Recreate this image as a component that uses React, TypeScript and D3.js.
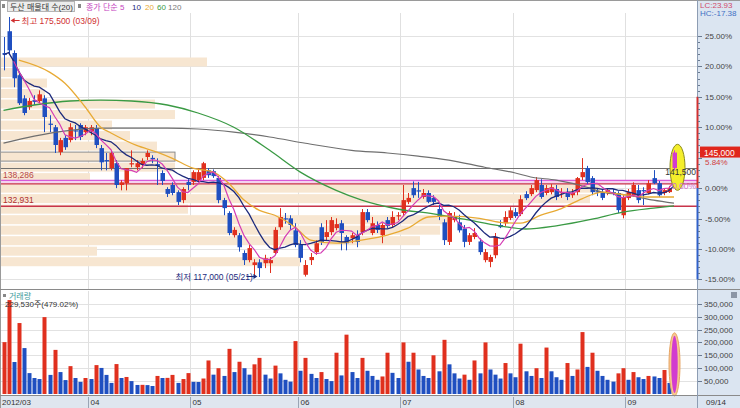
import React from "react";
import * as d3 from "d3";

// ---------- DATA ----------
// OHLC per trading day: [open, high, low, close] (2012/03/08 .. 2012/09/14)
const ohlc: [number, number, number, number][] = [
  [167400, 171000, 163500, 167000], [172300, 175500, 167000, 168000], [167400, 168000, 159700, 161700],
  [162400, 162900, 155700, 156100], [157200, 157900, 153400, 153900], [155200, 157300, 154600, 156600],
  [156800, 157900, 155700, 156400], [156600, 159000, 156100, 158100], [157200, 157900, 149600, 153000],
  [151500, 153400, 149600, 151300], [150700, 151200, 144900, 146700], [145100, 148300, 144400, 147800],
  [148300, 148900, 145600, 146200], [147800, 151600, 147300, 150700], [150000, 151200, 147800, 149800],
  [151200, 151600, 147800, 148500], [149600, 151200, 148900, 150700], [149800, 151200, 148900, 150700],
  [150500, 151200, 146000, 146700], [146000, 146700, 141000, 142800], [143300, 144900, 141000, 143100],
  [141500, 145500, 141000, 144900], [142600, 143300, 137000, 137700], [137700, 138800, 136500, 138300],
  [138100, 141500, 136500, 141500], [142400, 145500, 141700, 142600], [141700, 143300, 141000, 142600],
  [142200, 143700, 141500, 143100], [144000, 145500, 143300, 144900], [143800, 144400, 142600, 143500],
  [142400, 143700, 137700, 142000], [140400, 141000, 137700, 138600], [136800, 137200, 135000, 135700],
  [137700, 138300, 135400, 135900], [136100, 136500, 133200, 133900], [134300, 137200, 133600, 136800],
  [138400, 139000, 136500, 137700], [138400, 141000, 137700, 140600], [138800, 141500, 138300, 140600],
  [139300, 142900, 138800, 142600], [141000, 141500, 139300, 139900], [140800, 141200, 139300, 139700],
  [139300, 139700, 133600, 134300], [134300, 134800, 130900, 132500], [131400, 131800, 126400, 126900],
  [126400, 128200, 125900, 127600], [126400, 126900, 122700, 123700], [122400, 123000, 119700, 120800],
  [120800, 124200, 120300, 123500], [119700, 121000, 117400, 120300], [120300, 121000, 117000, 119000],
  [120100, 122000, 119000, 121200], [120100, 121500, 117900, 120800], [122400, 128200, 121900, 127600],
  [128200, 132500, 127600, 130500], [130200, 131400, 129000, 130000], [130200, 130900, 127600, 128700],
  [127500, 129100, 123700, 124200], [124200, 125300, 120300, 121300], [117500, 120800, 117100, 119700],
  [120800, 122400, 119700, 121500], [122600, 125300, 122000, 124600], [128200, 129100, 124200, 124900],
  [126000, 129800, 125300, 127100], [127100, 130500, 126400, 129800], [128000, 130200, 127500, 128900],
  [129100, 129800, 123000, 126900], [126000, 126400, 123000, 124600], [125700, 126900, 124600, 126400],
  [126200, 127500, 123700, 124900], [127100, 132300, 126400, 131600], [131600, 132300, 129300, 129800],
  [126900, 130500, 126400, 129100], [128700, 129500, 126900, 127600], [126400, 129100, 124600, 128700],
  [129800, 130500, 128000, 128500], [128700, 131800, 128200, 130500], [130700, 131600, 129800, 130900],
  [131400, 137700, 130700, 134300], [133900, 135900, 133400, 134800], [137000, 138500, 134800, 135400],
  [136500, 138400, 134800, 136300], [135000, 136800, 134600, 135900], [135900, 136500, 133600, 133900],
  [134800, 135400, 133200, 133900], [132300, 133200, 129800, 130500], [129300, 130000, 124200, 125300],
  [124900, 131800, 124200, 131400], [129800, 131600, 129300, 130700], [129300, 131000, 127000, 127500],
  [127900, 128700, 123700, 124900], [124900, 126900, 124200, 126400], [126000, 128000, 125500, 126900],
  [125000, 125700, 122000, 122600], [120800, 123300, 120300, 122600], [120400, 122000, 119200, 121500],
  [121900, 126900, 121200, 126000], [128700, 129800, 128000, 128200], [129100, 131800, 128500, 130500],
  [130250, 132700, 129800, 132000], [131600, 132500, 130300, 130700], [131150, 135400, 130700, 134500],
  [135650, 136300, 134300, 134750], [135650, 137700, 135200, 137000], [136550, 139500, 136100, 138800],
  [137700, 139000, 134600, 135000], [135900, 137700, 135400, 137000], [136100, 137900, 135600, 137200],
  [136800, 137700, 134300, 135000], [135900, 137000, 134800, 136100], [136100, 137000, 134300, 135000],
  [135400, 136800, 134800, 135900], [136100, 139500, 135400, 139250], [139450, 143750, 138800, 140600],
  [141500, 142000, 137900, 138350], [139250, 139700, 135400, 136100], [136300, 137000, 135200, 136100],
  [136100, 136800, 134300, 134800], [135900, 137000, 135400, 136550], [136100, 136800, 135400, 135900],
  [135900, 136300, 131400, 132050], [130900, 135400, 130200, 135000], [134750, 136800, 134300, 136100],
  [135400, 138300, 135000, 137700], [136550, 137700, 133600, 134300], [136550, 137200, 133200, 136300],
  [135900, 138800, 135600, 138100], [139250, 141050, 137900, 138100], [138100, 138600, 135000, 135400],
  [135900, 137000, 135400, 136550], [136100, 137500, 135900, 137000], [141500, 145500, 141000, 145000],
];

const volume: number[] = [
  201000, 364000, 124000, 275000, 178000, 81000, 62000, 58000, 298000, 74000,
  171000, 85000, 54000, 108000, 62000, 47000, 62000, 58000, 112000, 101000,
  74000, 43000, 116000, 62000, 66000, 50000, 35000, 35500, 34500, 31000,
  70000, 62000, 62500, 74000, 43000, 58000, 81000, 47000, 46500, 60000,
  130000, 75000, 100000, 70000, 175000, 85000, 125000, 100000, 75000, 115000,
  140000, 75000, 60000, 110000, 80000, 55000, 48000, 205000, 90000, 140000,
  78000, 62000, 85000, 58000, 50000, 160000, 72000, 230000, 85000, 62000,
  140000, 90000, 70000, 55000, 68000, 160000, 82000, 62000, 200000, 125000,
  160000, 95000, 70000, 62000, 150000, 88000, 210000, 115000, 80000, 60000,
  75000, 55000, 130000, 80000, 200000, 95000, 75000, 60000, 120000, 80000,
  65000, 195000, 88000, 70000, 100000, 62000, 180000, 88000, 65000, 55000,
  120000, 70000, 95000, 240000, 105000, 160000, 90000, 70000, 55000, 48000,
  80000, 100000, 55000, 85000, 65000, 58000, 70000, 68000, 62000, 93000,
  43000, 229530,
];

// moving averages (index, price)
const ma20Points: [number, number][] = [
  [3, 165800], [9, 163100], [12, 160600], [16, 155200], [19, 150700], [21, 149400], [26, 146600],
  [30, 145100], [33, 143700], [37, 141500], [41, 140600], [44, 138100], [47, 134300], [50, 132000],
  [53, 130900], [57, 128200], [60, 125300], [65, 124600], [70, 125300], [75, 126400], [79, 128000],
  [83, 130500], [87, 130700], [93, 130200], [97, 129300], [101, 129100], [105, 130900], [109, 132400],
  [113, 134600], [117, 136100], [122, 135400], [126, 135000], [131, 135000],
];
const ma60Points: [number, number][] = [
  [0, 154500], [6, 155700], [13, 156600], [19, 156800], [25, 156600], [32, 155700], [38, 153900],
  [45, 150700], [52, 145500], [58, 140600], [65, 136500], [70, 134300], [77, 132300], [84, 131200],
  [90, 130000], [97, 128500], [102, 127800], [108, 128500], [115, 130000], [121, 131600], [127, 132500],
  [131, 133000],
];
const ma120Points: [number, number][] = [
  [0, 147100], [6, 148700], [13, 150000], [19, 150500], [25, 150500], [32, 150500], [38, 150300],
  [45, 149600], [52, 148500], [59, 147100], [68, 145500], [75, 144900], [81, 144200], [87, 143300],
  [94, 141700], [100, 140400], [103, 139500], [108, 138800], [114, 137200], [117, 136100], [122, 135400],
  [127, 134300], [131, 133600],
];

// price-volume profile (20 bands, top -> bottom), relative volume
const profileVolume: number[] = [207, 20, 47, 45, 155, 175, 112, 130, 157, 175, 175, 90, 600, 590, 188, 450, 440, 420, 97, 300];
const profileLow = 119200;
const profileHigh = 166500;
const currentBand = 9;

const monthLabels = ["2012/03", "04", "05", "06", "07", "08", "09"];
const monthStart = [0, 17, 37, 58, 78, 100, 122];
const lastDateLabel = "09/14";
const pctTicks = [25, 20, 15, 10, 0, -5, -10, -15];
const volTicks = [50000, 100000, 150000, 200000, 250000, 300000, 350000];
const basePrice = 137000;
const lastPrice = 145000;
const openLine = 141500;
const level1 = 138286;
const level2 = 132931;
const hiPrice = 175500, hiIdx = 1, hiDate = "03/09";
const loPrice = 117000, loIdx = 50, loDate = "05/21";

// ---------- CHART ----------
const UP = "#e0301e";
const DOWN = "#1f4fc0";
const LAST = "#d23ccf";
const FONT = "'Liberation Sans', 'Noto Sans CJK KR', sans-serif";

function sma(closes: number[], n: number, i: number) {
  const s = Math.max(0, i - n + 1);
  let t = 0;
  for (let k = s; k <= i; k++) t += closes[k];
  return t / (i - s + 1);
}

export default function App() {
  const N = ohlc.length;
  const x = d3.scaleLinear().domain([0, N - 1]).range([3.5, 674]);
  const step = x(1) - x(0);
  const yP = d3.scaleLinear().domain([117000, 175500]).range([277, 17]);
  const yV = d3.scaleLinear().domain([0, 350000]).range([394, 303.7]);
  const yPct = (p: number) => yP(basePrice * (1 + p / 100));
  const plotR = 697;
  const closes = ohlc.map((d) => d[3]);

  const lineGen = d3.line<[number, number]>().x((d) => x(d[0])).y((d) => yP(d[1]));
  const smooth = d3.line<[number, number]>().x((d) => x(d[0])).y((d) => yP(d[1])).curve(d3.curveMonotoneX);
  const ma5 = d3.range(2, N).map((i) => [i, sma(closes, 5, i)] as [number, number]);
  const ma10 = d3.range(0, N).map((i) => [i, sma(closes, 10, i)] as [number, number]);

  const profW = d3.scaleLinear().domain([0, 600]).range([0, 600]);
  const bandH = (yP(profileLow) - yP(profileHigh)) / profileVolume.length;

  const gridX = monthStart.slice(1).map((i) => Math.round(x(i) - step / 2) + 0.5);
  const minorPct = d3.range(-15, 26, 1);
  const pctLast = (lastPrice / basePrice - 1) * 100;

  return (
    <div style={{ position: "absolute", left: 0, top: 0 }}>
      <svg width={740} height={408} style={{ display: "block", fontFamily: FONT }}>
        <rect x={0} y={0} width={740} height={408} fill="#ffffff" />
        {/* right axis strip */}
        <rect x={plotR} y={0} width={43} height={408} fill="#dbe5f1" />
        {/* x-axis strip */}
        <rect x={0} y={396} width={plotR} height={12} fill="#dfe6ef" />

        {/* price gridlines */}
        {pctTicks.map((p) => (
          <line key={"g" + p} x1={0} x2={plotR} y1={Math.round(yPct(p)) + 0.5} y2={Math.round(yPct(p)) + 0.5} stroke="#e2e2e2" />
        ))}
        {volTicks.map((v) => (
          <line key={"vg" + v} x1={0} x2={plotR} y1={Math.round(yV(v)) + 0.5} y2={Math.round(yV(v)) + 0.5} stroke="#e2e2e2" />
        ))}
        {gridX.map((gx, k) => (
          <g key={"vx" + k}>
            <line x1={gx} x2={gx} y1={13} y2={289} stroke="#e0e0e0" />
            <line x1={gx} x2={gx} y1={291} y2={395} stroke="#e0e0e0" />
            <line x1={gx} x2={gx} y1={397} y2={408} stroke="#9aa5b5" />
          </g>
        ))}

        {/* volume profile */}
        {profileVolume.map((v, k) => {
          const y0 = yP(profileHigh) + k * bandH;
          return (
            <rect key={"pf" + k} x={0} y={y0 + 0.5} width={profW(v)} height={bandH - 1.5}
              fill="#f7e6d1" stroke={k === currentBand ? "#8a8a8a" : "none"} strokeWidth={1} />
          );
        })}

        {/* horizontal levels */}
        <line x1={0} x2={plotR} y1={Math.round(yP(openLine)) + 0.5} y2={Math.round(yP(openLine)) + 0.5} stroke="#707070" />
        <rect x={0} y={yP(level1) - 2} width={plotR} height={3.5} fill="#f4d2ef" />
        <line x1={0} x2={plotR} y1={yP(level1) - 2} y2={yP(level1) - 2} stroke="#d85ad8" strokeWidth={1.2} />
        <line x1={0} x2={plotR} y1={yP(level1) + 1.5} y2={yP(level1) + 1.5} stroke="#c8344a" strokeWidth={1.3} />
        <line x1={0} x2={plotR} y1={yP(level2)} y2={yP(level2)} stroke="#c8344a" strokeWidth={1.5} />
        <text x={3} y={yP(level1) - 4} fontSize={8.5} fill="#b84848">{d3.format(",")(level1)}</text>
        <text x={3} y={yP(level2) - 3} fontSize={8.5} fill="#b03030">{d3.format(",")(level2)}</text>

        {/* candles */}
        {ohlc.map((d, i) => {
          const [o, h, l, c] = d;
          const isLast = i === N - 1;
          const col = isLast ? LAST : c >= o ? UP : DOWN;
          const cx = Math.round(x(i)) + 0.5;
          const top = yP(Math.max(o, c));
          const bot = yP(Math.min(o, c));
          return (
            <g key={"c" + i}>
              <line x1={cx} x2={cx} y1={yP(h)} y2={yP(l)} stroke={col} strokeWidth={1} />
              <rect x={cx - 2} y={top} width={4.5} height={Math.max(1.2, bot - top)} fill={col} />
            </g>
          );
        })}

        {/* moving averages */}
        <path d={smooth(ma120Points) || ""} fill="none" stroke="#6f6f6f" strokeWidth={1.2} />
        <path d={smooth(ma60Points) || ""} fill="none" stroke="#3a9a44" strokeWidth={1.3} />
        <path d={smooth(ma20Points) || ""} fill="none" stroke="#e8aa34" strokeWidth={1.3} />
        <path d={lineGen(ma10) || ""} fill="none" stroke="#1c2a7c" strokeWidth={1.3} />
        <path d={lineGen(ma5) || ""} fill="none" stroke="#d43cb4" strokeWidth={1.2} />

        {/* highlight on last candle */}
        {(() => {
          const d = ohlc[N - 1];
          const cx = Math.round(x(N - 1)) + 0.5;
          return (
            <g>
              <ellipse cx={cx + 3} cy={(yP(d[1]) + yP(d[2])) / 2 + 7} rx={7.5} ry={23} fill="#f4ee2c" stroke="#8c8a1c" strokeWidth={1} />
              <line x1={cx} x2={cx} y1={yP(d[1])} y2={yP(d[2])} stroke={LAST} />
              <rect x={cx - 2} y={yP(d[3])} width={4.5} height={yP(d[0]) - yP(d[3])} fill={LAST} />
            </g>
          );
        })()}
        <text x={696} y={yP(openLine) + 7} fontSize={8.5} fill="#333" textAnchor="end">{d3.format(",")(openLine)}</text>
        <text x={696} y={yP(basePrice) + 1} fontSize={8.5} fill="#d070d0" textAnchor="end">0.00%</text>

        {/* hi / lo annotations */}
        <g fill="#d03030" stroke="#d03030">
          <line x1={x(hiIdx) + 3} x2={x(hiIdx) + 11} y1={20.5} y2={20.5} strokeWidth={1} />
          <path d={`M${x(hiIdx) + 2},20.5 l4,-2.5 v5 z`} stroke="none" />
        </g>
        <text x={x(hiIdx) + 13} y={24} fontSize={8.5} fill="#d03030">{"최고 " + d3.format(",")(hiPrice) + " (" + hiDate + ")"}</text>
        <text x={x(loIdx) - 84} y={280} fontSize={8.5} fill="#1c2a7c">{"최저 " + d3.format(",")(loPrice) + " (" + loDate + ")"}</text>
        <g>
          <line x1={x(loIdx) - 13} x2={x(loIdx) - 4} y1={276.5} y2={276.5} stroke="#1c2a7c" />
          <path d={`M${x(loIdx) - 2},276.5 l-4,-2.5 v5 z`} fill="#1c2a7c" />
        </g>

        {/* volume bars */}
        {volume.map((v, i) => {
          const isLast = i === N - 1;
          const col = i === 0 || v >= volume[i - 1] ? UP : DOWN;
          const cx = Math.round(x(i)) + 0.5;
          if (isLast) {
            return (
              <g key={"v" + i}>
                <ellipse cx={cx} cy={(yV(v) + yV(0)) / 2} rx={5.5} ry={(yV(0) - yV(v)) / 2 + 2} fill="#f8c891" stroke="#e7a463" />
                <ellipse cx={cx} cy={(yV(v) + yV(0)) / 2} rx={3.2} ry={(yV(0) - yV(v)) / 2 - 1} fill={LAST} />
              </g>
            );
          }
          return <rect key={"v" + i} x={cx - 2} y={yV(v)} width={4} height={yV(0) - yV(v)} fill={col} />;
        })}

        {/* frames */}
        <line x1={0} x2={740} y1={0.5} y2={0.5} stroke="#9a9a9a" />
        <line x1={0.5} x2={0.5} y1={0} y2={408} stroke="#9a9a9a" />
        <line x1={0} x2={740} y1={289.5} y2={289.5} stroke="#8a8a8a" />
        <line x1={0} x2={740} y1={395.5} y2={395.5} stroke="#8a8a8a" />
        <line x1={plotR + 0.5} x2={plotR + 0.5} y1={0} y2={408} stroke="#8d9db3" />
        <line x1={plotR + 0.5} x2={plotR + 0.5} y1={yPct(15)} y2={yPct(0)} stroke="#d03030" strokeWidth={2} />
        <line x1={plotR + 0.5} x2={plotR + 0.5} y1={yPct(0)} y2={yPct(-15)} stroke="#3060c8" strokeWidth={2} />

        {/* right price axis */}
        {minorPct.map((p) => (
          <line key={"mt" + p} x1={plotR + 1} x2={plotR + (p % 5 === 0 ? 5 : 3)} y1={Math.round(yPct(p)) + 0.5} y2={Math.round(yPct(p)) + 0.5} stroke="#6a7a90" />
        ))}
        {pctTicks.map((p) => (
          <text key={"pt" + p} x={705} y={yPct(p) + 3} fontSize={8} fill="#444">{p.toFixed(2) + "%"}</text>
        ))}
        <rect x={700} y={yP(lastPrice) - 6} width={40} height={11} fill="#e0261c" />
        <text x={704} y={yP(lastPrice) + 3} fontSize={8.5} fill="#ffffff">{d3.format(",")(lastPrice)}</text>
        <text x={705} y={yPct(pctLast) + 12} fontSize={8} fill="#d04040">{pctLast.toFixed(2) + "%"}</text>
        <text x={700} y={8} fontSize={8} fill="#d04a6a">LC:23.93</text>
        <text x={700} y={16} fontSize={8} fill="#3f6fc4">HC:-17.38</text>

        {/* right volume axis */}
        {volTicks.map((v) => (
          <g key={"vt" + v}>
            <line x1={plotR + 1} x2={plotR + 5} y1={Math.round(yV(v)) + 0.5} y2={Math.round(yV(v)) + 0.5} stroke="#6a7a90" />
            <text x={704} y={yV(v) + 3} fontSize={8} fill="#444">{d3.format(",")(v)}</text>
          </g>
        ))}
        <rect x={731} y={292} width={6} height={6} fill="#8c96a6" />

        {/* header legend */}
        <rect x={2} y={4} width={3} height={4} fill="#888" />
        <rect x={7.5} y={1.5} width={67} height={10} fill="#ececec" stroke="#b5b5b5" />
        <text x={10} y={10} fontSize={8} fill="#333">두산 매물대 수(20)</text>
        <rect x={78} y={4} width={3} height={4} fill="#888" />
        <text x={86} y={10} fontSize={8} fill="#c53fc0">종가 단순 5</text>
        <text x={132} y={10} fontSize={8} fill="#1c2a7c">10</text>
        <text x={145} y={10} fontSize={8} fill="#e8aa34">20</text>
        <text x={157} y={10} fontSize={8} fill="#3a9a44">60</text>
        <text x={168} y={10} fontSize={8} fill="#7a7a7a">120</text>

        {/* volume legend */}
        <rect x={3} y={294} width={3} height={3} fill="#888" />
        <text x={9} y={299} fontSize={8} fill="#3a9a9a">거래량</text>
        <text x={5} y={307} fontSize={8} fill="#333">{d3.format(",")(volume[N - 1]) + "주(479.02%)"}</text>

        {/* x axis labels */}
        {monthLabels.map((m, k) => (
          <text key={"m" + k} x={k === 0 ? 2 : gridX[k - 1] + 2} y={405} fontSize={8} fill="#333">{m}</text>
        ))}
        <text x={706} y={405} fontSize={8} fill="#333">{lastDateLabel}</text>
      </svg>
    </div>
  );
}
